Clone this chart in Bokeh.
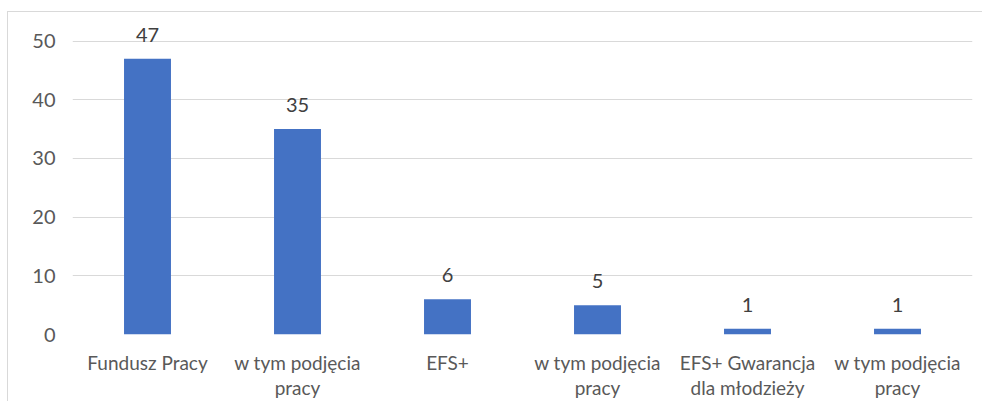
from bokeh.plotting import figure
from bokeh.models import Range1d, FixedTicker, ColumnDataSource, LabelSet
from bokeh.core.properties import value
from bokeh.embed import file_html
from bokeh.resources import INLINE

categories = ["Fundusz Pracy", "w tym podjęcia\npracy", "EFS+", "w tym podjęcia\npracy",
              "EFS+ Gwarancja\ndla młodzieży", "w tym podjęcia\npracy"]
values = [47, 35, 6, 5, 1, 1]
y_ticks = [0, 10, 20, 30, 40, 50]

FONT = "Lato"
xs = list(range(len(categories)))
src = ColumnDataSource(dict(x=xs, y=values, label=[str(v) for v in values]))

p = figure(width=975, height=390, output_backend="svg", toolbar_location=None,
           x_range=Range1d(-0.5, len(categories) - 0.5), y_range=Range1d(0, 53),
           min_border_left=64, min_border_right=11, min_border_top=11, min_border_bottom=68)
p.styles = {"margin-left": "7px", "margin-top": "11px",
            "border-left": "1px solid #d9d9d9", "border-top": "1px solid #d9d9d9"}
p.outline_line_color = None

p.vbar(x="x", top="y", width=0.313, source=src, fill_color="#4472C4", line_color=None)
labels = LabelSet(x="x", y="y", text="label", source=src, text_align="center",
                  text_baseline="alphabetic", y_offset=17, text_font=value(FONT),
                  text_font_size="20px", text_color="#404040")
p.add_layout(labels)

p.xaxis.ticker = FixedTicker(ticks=xs)
p.xaxis.major_label_overrides = {i: c for i, c in enumerate(categories)}
p.yaxis.ticker = FixedTicker(ticks=y_ticks)
for ax in (p.xaxis, p.yaxis):
    ax.axis_line_color = None
    ax.major_tick_line_color = None
    ax.minor_tick_line_color = None
    ax.major_tick_out = 0
    ax.major_tick_in = 0
    ax.minor_tick_out = 0
    ax.minor_tick_in = 0
    ax.major_label_text_font = FONT
    ax.major_label_text_color = "#595959"
p.xaxis.major_label_text_font_size = "19px"
p.xaxis.major_label_text_line_height = 1.1
p.yaxis.major_label_text_font_size = "20px"
p.xaxis.major_label_standoff = 16
p.yaxis.major_label_standoff = 17
p.xgrid.grid_line_color = None
p.ygrid.grid_line_color = "#d9d9d9"
p.ygrid.grid_line_width = 1

open("out.html", "w").write(file_html(p, INLINE))
